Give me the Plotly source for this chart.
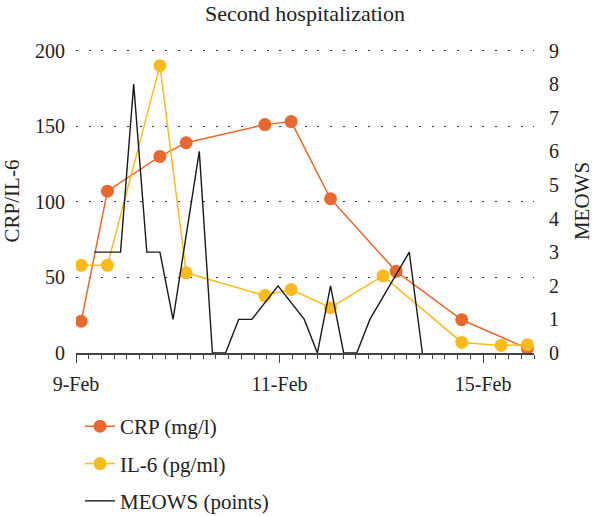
import plotly.graph_objects as go

# ---- data (slot index = time slot within the hospitalization) ----
crp_slot = [0, 2, 6, 8, 14, 16, 19, 24, 29, 34]
crp_val = [21, 107, 130, 139, 151, 153, 102, 54, 22, 3]

il6_slot = [0, 2, 6, 8, 14, 16, 19, 23, 29, 32, 34]
il6_val = [58, 58, 190, 53, 38, 42, 30, 51, 7, 5, 5.5]

meows_slot = list(range(1, 27))
meows_val = [3, 3, 3, 8, 3, 3, 1, None, 6, 0, 0, 1, 1, None, 2, None,
             1, 0, 2, 0, 0, 1, None, None, 3, 0]

x_tick_labels = ["9-Feb", "11-Feb", "15-Feb"]
left_ticks = [0, 50, 100, 150, 200]
right_ticks = list(range(0, 10))

# ---- styling ----
FONT = "Liberation Serif"
TXT = "#222222"
CRP_C = "#E8692D"
IL6_C = "#FBBB1E"
BLK = "#1a1a1a"

# axis geometry (category axis with 36 tick intervals)
x0 = -0.396
tick_step = 0.9695
n_intervals = 36
x1 = x0 + n_intervals * tick_step
major_pos = [x0 + 16 * i * tick_step for i in range(3)]
y_top = 201.0
y2_top = 9 * y_top / 200

fig = go.Figure()
fig.add_trace(go.Scatter(
    x=crp_slot, y=crp_val, name="CRP (mg/l)", mode="lines+markers",
    line=dict(color=CRP_C, width=1.5),
    marker=dict(color=CRP_C, size=13, line=dict(width=0)),
    legendgroup="a",
))
fig.add_trace(go.Scatter(
    x=il6_slot, y=il6_val, name="IL-6 (pg/ml)", mode="lines+markers",
    line=dict(color=IL6_C, width=1.5),
    marker=dict(color=IL6_C, size=13, line=dict(width=0)),
    legendgroup="b",
))
fig.add_trace(go.Scatter(
    x=meows_slot, y=meows_val, name="MEOWS (points)", mode="lines",
    line=dict(color=BLK, width=1.4), connectgaps=True,
    yaxis="y2", legendgroup="c",
))

fig.update_layout(
    width=600, height=516,
    margin=dict(l=76, r=66, t=49, b=163, autoexpand=False),
    paper_bgcolor="white", plot_bgcolor="white",
    font=dict(family=FONT, size=20, color=TXT),
    title=dict(text="Second hospitalization", x=0.5, xref="paper",
               yref="container", y=1 - 13 / 516, yanchor="middle",
               font=dict(family=FONT, size=22, color=TXT)),
    showlegend=True,
    legend=dict(orientation="v", x=4 / 458, xanchor="left",
                yref="container", y=0.213, yanchor="top",
                tracegroupgap=7, font=dict(family=FONT, size=21, color=TXT),
                bgcolor="rgba(0,0,0,0)"),
    xaxis=dict(
        range=[x0, x1], tickmode="array", tickvals=major_pos,
        ticktext=x_tick_labels, ticks="outside", ticklen=8, tickwidth=1.3,
        tickcolor="#444", showline=True, linecolor="#444", linewidth=1.5,
        showgrid=False, zeroline=False, automargin=False,
        tickfont=dict(family=FONT, size=20, color=TXT),
        minor=dict(tick0=x0, dtick=tick_step, ticks="outside", ticklen=4,
                   tickwidth=1.2, tickcolor="#444", showgrid=False),
        ticklabelstandoff=4,
    ),
    yaxis=dict(
        range=[0, y_top], tickvals=left_ticks, ticks="", showline=False,
        zeroline=False, showgrid=True, gridcolor="#333", gridwidth=1.4,
        griddash="2px,10.7px", automargin=False,
        tickfont=dict(family=FONT, size=20, color=TXT),
        title=dict(text="CRP/IL-6", standoff=14,
                   font=dict(family=FONT, size=21, color=TXT)),
        ticklabelstandoff=10,
    ),
    yaxis2=dict(
        range=[0, y2_top], tickvals=right_ticks, overlaying="y", side="right",
        ticks="", showline=False, zeroline=False, showgrid=False,
        automargin=False,
        tickfont=dict(family=FONT, size=20, color=TXT),
        title=dict(text="MEOWS", standoff=16,
                   font=dict(family=FONT, size=21, color=TXT)),
        ticklabelstandoff=14,
    ),
)

fig.write_html("out.html")
